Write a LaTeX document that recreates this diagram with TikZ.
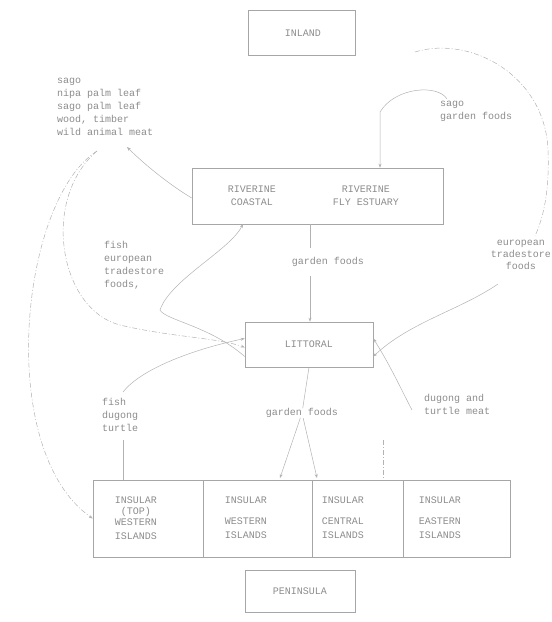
\documentclass[tikz,border=0pt]{standalone}
\usepackage{fontspec}
\setmonofont{Liberation Mono}
\usetikzlibrary{arrows.meta}
\begin{document}
\begin{tikzpicture}[x=1pt,y=-1pt,
  every node/.style={font=\ttfamily\fontsize{10}{13}\selectfont, text=black!45},
  box/.style={draw=black!35, line width=0.6pt, rectangle, inner sep=0pt},
  lbl/.style={align=left, inner sep=0pt},
  clbl/.style={align=center, inner sep=0pt},
  flow/.style={draw=black!30, line width=0.5pt, -{Stealth[length=4pt,width=3pt]}},
  plain/.style={draw=black!30, line width=0.5pt},
  dplain/.style={draw=black!30, line width=0.5pt, dash pattern=on 5pt off 2pt on 1pt off 2pt},
  dflow/.style={dplain, -{Stealth[length=4pt,width=3pt]}}
]
\useasboundingbox (0,0) rectangle (552,622);
% boxes
\node[box, minimum width=107pt, minimum height=45pt] (inland) at (301.5,32.5) {};
\node[clbl] (inlandt) at (303,33) {INLAND};
\node[box, minimum width=251pt, minimum height=56pt] (riv) at (317.5,196) {};
\node[clbl] (rc) at (252,196) {RIVERINE\\COASTAL};
\node[clbl] (rf) at (366,196) {RIVERINE\\FLY ESTUARY};
\node[box, minimum width=128pt, minimum height=45pt] (lit) at (309,344.5) {};
\node[clbl] (litt) at (309,344.5) {LITTORAL};
\node[box, minimum width=110pt, minimum height=77pt] (c1) at (148,518.5) {};
\node[box, minimum width=109pt, minimum height=77pt] (c2) at (257.5,518.5) {};
\node[box, minimum width=91pt, minimum height=77pt] (c3) at (357.5,518.5) {};
\node[box, minimum width=107pt, minimum height=77pt] (c4) at (456.5,518.5) {};
\node[clbl, anchor=north] (t1) at (136,497) {INSULAR\\[-2pt](TOP)\\[-2pt]WESTERN\\[1pt]ISLANDS};
\node[clbl, anchor=north] (t2) at (246,497) {INSULAR\\[8pt]WESTERN\\[1pt]ISLANDS};
\node[clbl, anchor=north] (t3) at (343,497) {INSULAR\\[8pt]CENTRAL\\[1pt]ISLANDS};
\node[clbl, anchor=north] (t4) at (440,497) {INSULAR\\[8pt]EASTERN\\[1pt]ISLANDS};
\node[box, minimum width=110pt, minimum height=42pt] (pen) at (300,591) {};
\node[clbl] (pent) at (300,591) {PENINSULA};
% labels
\node[lbl, anchor=north west] (l1) at (57,78) {sago\\nipa palm leaf\\sago palm leaf\\wood, timber\\wild animal meat};
\node[lbl, anchor=north west] (l2) at (440,101) {sago\\garden foods};
\node[clbl] (l3) at (328,262) {garden foods};
\node[lbl, anchor=north west] (l4) at (104,241) {fish\\european\\tradestore\\foods,};
\node[clbl, anchor=north east, font=\ttfamily\fontsize{10}{12}\selectfont] (l5) at (551,240) {european\\tradestore\\foods};
\node[lbl, anchor=north west] (l6) at (102,398) {fish\\dugong\\turtle};
\node[clbl] (l7) at (302,413) {garden foods};
\node[lbl, anchor=north west] (l8) at (424,394) {dugong and\\turtle meat};
% coordinates
\coordinate (a1) at (97,151);
\coordinate (a2) at (127,147);
\coordinate (b1) at (380,112);
\coordinate (b2) at (447,99);
\coordinate (e0) at (415,52);
\coordinate (e1) at (498,284);
\coordinate (g1) at (310,248);
\coordinate (g2) at (310,276);
\coordinate (f1) at (123,440);
\coordinate (f2) at (123,392);
\coordinate (k1) at (280,478);
\coordinate (k2) at (317,478);
\coordinate (m1) at (383,440);
\coordinate (m2) at (412,410);
% connectors
\draw[flow] ([yshift=-2pt]riv.west) .. controls (170,185) and (145,165) .. (a2);
\draw[dflow] (a1) .. controls (20,200) and (-5,450) .. (c1.west);
\draw[dflow] (a1) .. controls (40,200) and (60,310) .. (120,325) .. controls (170,337) and (220,338) .. ([yshift=-3pt]lit.west);
\draw[flow] (b2) .. controls (438,84) and (395,87) .. (b1) -- (b1 |- riv.north);
\draw[plain] (g1 |- riv.south) -- (g1);
\draw[flow] (g2) -- (g2 |- lit.north);
\draw[dplain] (e0) .. controls (470,35) and (545,75) .. (548,150) .. controls (550,200) and (540,225) .. (535,236);
\draw[flow] (e1) .. controls (460,310) and (410,322) .. ([yshift=-12pt]lit.east);
\draw[flow] ([yshift=-12pt]lit.west) .. controls (210,326) and (165,320) .. (160,310) .. controls (170,280) and (230,250) .. (243,224);
\draw[flow] (f2) .. controls (140,370) and (190,350) .. ([yshift=6pt]lit.west);
\draw[plain] (f1) -- (f1 |- c1.north);
\draw[plain] (lit.south) -- (l7);
\draw[flow] (l7) -- (k1);
\draw[flow] (l7) -- (k2);
\draw[flow] (m2) .. controls (400,387) and (390,365) .. ([yshift=6pt]lit.east);
\draw[dplain] (m1) -- (m1 |- c3.north);
\end{tikzpicture}
\end{document}
